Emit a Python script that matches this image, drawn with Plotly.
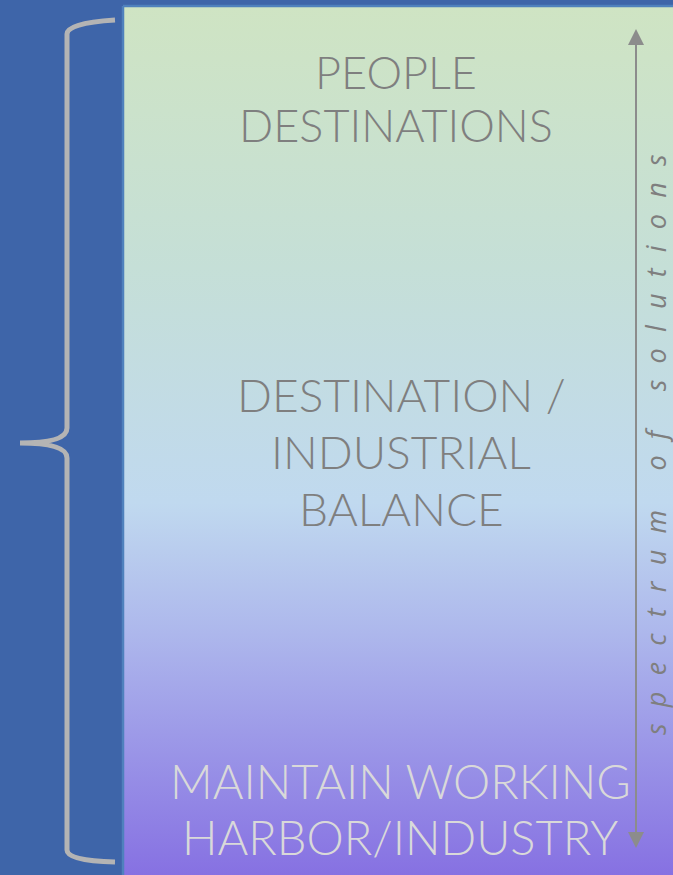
import plotly.graph_objects as go

W, H = 673, 875

# ---- content ----
top_label = ["PEOPLE", "DESTINATIONS"]
mid_label = ["DESTINATION /", "INDUSTRIAL", "BALANCE"]
bottom_label = ["MAINTAIN WORKING", "HARBOR/INDUSTRY"]
axis_caption = "spectrum of solutions"

# ---- styling ----
bg_color = "#3E65A9"
panel_border = "#4F81BD"
gradient_stops = [0.0, 0.30, 0.57, 0.72, 1.0]
gradient_colors = ["#CFE4C3", "#C5DFD7", "#C0D9EF", "#ADB7EC", "#8670E2"]
brace_color = "#B4B4B4"
arrow_color = "#8C8C8C"
dark_text = "#7F7F7F"
light_text = "#D9D9D9"
FONT = "Lato"

fig = go.Figure()

# gradient panel
px0, px1, py0, py1 = 123, 676, 6, 878
fig.add_trace(go.Scatter(
    x=[px0, px1, px1, px0, px0], y=[py0, py0, py1, py1, py0],
    mode="lines", line=dict(color=panel_border, width=2.5),
    fill="toself",
    fillgradient=dict(type="vertical", start=py0, stop=py1,
                      colorscale=[[s, c] for s, c in zip(gradient_stops, gradient_colors)]),
    hoverinfo="skip", showlegend=False))

# brace
brace = ("M 115 20 Q 67 23 67 34 L 67 428 Q 67 443 20 443 "
         "Q 67 443 67 458 L 67 850 Q 67 861 115 862")
fig.add_shape(type="path", path=brace, line=dict(color=brace_color, width=5),
              fillcolor="rgba(0,0,0,0)", xref="x", yref="y")

# double arrow
ax = 636
fig.add_shape(type="line", x0=ax, x1=ax, y0=44, y1=834,
              line=dict(color=arrow_color, width=2), xref="x", yref="y")
fig.add_shape(type="path", path=f"M {ax} 29 L {ax+8} 45 L {ax-8} 45 Z",
              fillcolor=arrow_color, line=dict(width=0), xref="x", yref="y")
fig.add_shape(type="path", path=f"M {ax} 848 L {ax+8} 832 L {ax-8} 832 Z",
              fillcolor=arrow_color, line=dict(width=0), xref="x", yref="y")

def label(lines, x, ys, size, color):
    for line, y in zip(lines, ys):
        fig.add_annotation(x=x, y=y, xref="x", yref="y", text=line,
                           showarrow=False, xanchor="center", yanchor="middle",
                           font=dict(family=FONT, size=size, color=color, weight=300))

label(top_label, 396, [72, 125], 45, dark_text)
label(mid_label, 401, [394, 451, 508], 46, dark_text)
label(bottom_label, 400, [781, 837], 47, light_text)

gap = "\u2002\u200a"
spaced = gap.join(list(axis_caption)).replace(" ", "\u00a0")
fig.add_annotation(x=655, y=445, xref="x", yref="y", text=spaced, textangle=-90,
                   showarrow=False, xanchor="center", yanchor="middle",
                   font=dict(family="Open Sans", size=27, color=dark_text, style="italic"))

fig.update_xaxes(range=[0, W], visible=False, fixedrange=True)
fig.update_yaxes(range=[H, 0], visible=False, fixedrange=True)
fig.update_layout(width=W, height=H, margin=dict(l=0, r=0, t=0, b=0),
                  paper_bgcolor=bg_color, plot_bgcolor=bg_color, showlegend=False)

fig.write_html("out.html", config={"displayModeBar": False},
               post_script="document.body.style.margin='0';document.body.style.overflow='hidden';")
